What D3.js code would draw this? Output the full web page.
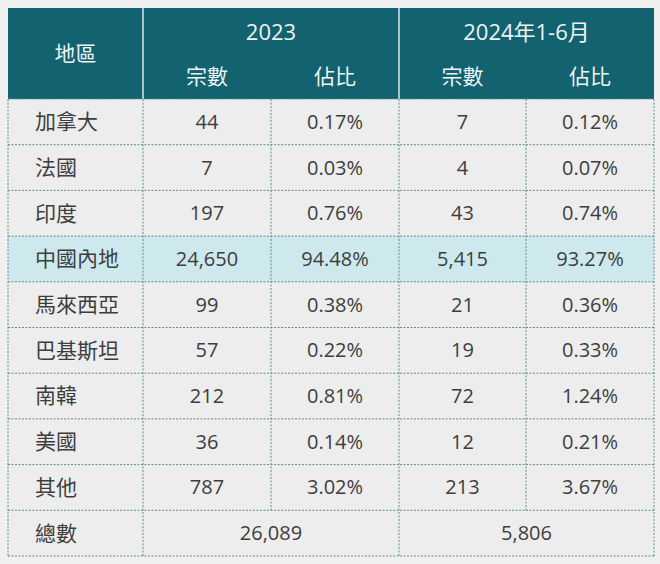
<!doctype html>
<html>
<head>
    <meta charset="utf-8">
    <script src="https://d3js.org/d3.v7.min.js"></script>
    <style>
        body { margin: 0; background: #f0f0f0; }
        text { font-family: "Open Sans", "Noto Sans CJK TC", sans-serif; }
    </style>
</head>
<body>
    <script>
        var width = 660;
        var height = 564;

        // data
        var regions = ["加拿大", "法國", "印度", "中國內地", "馬來西亞", "巴基斯坦", "南韓", "美國", "其他"];
        var cases2023 = ["44", "7", "197", "24,650", "99", "57", "212", "36", "787"];
        var share2023 = ["0.17%", "0.03%", "0.76%", "94.48%", "0.38%", "0.22%", "0.81%", "0.14%", "3.02%"];
        var cases2024 = ["7", "4", "43", "5,415", "21", "19", "72", "12", "213"];
        var share2024 = ["0.12%", "0.07%", "0.74%", "93.27%", "0.36%", "0.33%", "1.24%", "0.21%", "3.67%"];
        var periods = ["2023", "2024年1-6月"];
        var subHeaders = ["宗數", "佔比"];
        var totalLabel = "總數";
        var totals = ["26,089", "5,806"];
        var highlight = "中國內地";

        // layout ("top" is taken by window.top, so tTop)
        var tLeft = 8, tRight = 654, tTop = 8, headH = 91;
        var colEdges = [tLeft, 143, 271, 399, 526, tRight];
        var rowH = 45.7;

        var rowKeys = regions.concat([totalLabel]);
        var y = d3.scaleBand()
                  .domain(rowKeys)
                  .range([tTop + headH, tTop + headH + rowH * rowKeys.length]);

        var svg = d3.select("body")
                    .append("svg")
                    .attr("width", width)
                    .attr("height", height);

        svg.append("rect").attr("width", width).attr("height", height).attr("fill", "#f0f0f0");

        // header block
        svg.append("rect")
           .attr("x", tLeft).attr("y", tTop)
           .attr("width", tRight - tLeft).attr("height", headH)
           .attr("fill", "#136270");

        [colEdges[1], colEdges[3]].forEach(function(x){
            svg.append("line")
               .attr("x1", x).attr("x2", x)
               .attr("y1", tTop).attr("y2", tTop + headH)
               .attr("stroke", "#a8c6ca").attr("stroke-width", 2);
        });

        var headColor = "#eef4f4";
        svg.append("text")
           .attr("x", (colEdges[0] + colEdges[1]) / 2).attr("y", tTop + headH / 2)
           .attr("text-anchor", "middle").attr("dy", "0.35em")
           .attr("font-size", 21).attr("fill", headColor)
           .text("地區");

        periods.forEach(function(p, i){
            var x0 = colEdges[1 + i * 2], x1 = colEdges[3 + i * 2];
            svg.append("text")
               .attr("x", (x0 + x1) / 2).attr("y", tTop + 24)
               .attr("text-anchor", "middle").attr("dy", "0.35em")
               .attr("font-size", 22).attr("fill", headColor)
               .text(p);
            subHeaders.forEach(function(s, j){
                svg.append("text")
                   .attr("x", (colEdges[1 + i * 2 + j] + colEdges[2 + i * 2 + j]) / 2)
                   .attr("y", tTop + 69)
                   .attr("text-anchor", "middle").attr("dy", "0.35em")
                   .attr("font-size", 21).attr("fill", headColor)
                   .text(s);
            });
        });

        // body rows
        svg.selectAll("rect.row")
           .data(rowKeys)
           .enter()
           .append("rect")
           .attr("class", "row")
           .attr("x", tLeft).attr("y", function(d){ return y(d); })
           .attr("width", tRight - tLeft).attr("height", y.bandwidth())
           .attr("fill", function(d){ return d === highlight ? "#cde9ee" : "#ededed"; });

        function dline(x1, y1, x2, y2){
            svg.append("line")
               .attr("x1", x1).attr("y1", y1).attr("x2", x2).attr("y2", y2)
               .attr("stroke", "#5d8c8e").attr("stroke-width", 1)
               .attr("stroke-dasharray", "2,1.5");
        }

        // horizontal lines
        rowKeys.forEach(function(d){ dline(tLeft, y(d), tRight, y(d)); });
        var bottom = y(totalLabel) + y.bandwidth();
        dline(tLeft, bottom, tRight, bottom);

        // vertical lines
        dline(tLeft, tTop + headH, tLeft, bottom);
        dline(tRight, tTop + headH, tRight, bottom);
        dline(colEdges[1], tTop + headH, colEdges[1], bottom);
        dline(colEdges[3], tTop + headH, colEdges[3], bottom);
        dline(colEdges[2], tTop + headH, colEdges[2], y(totalLabel));
        dline(colEdges[4], tTop + headH, colEdges[4], y(totalLabel));

        var textColor = "#3d3d3d";
        var columns = [cases2023, share2023, cases2024, share2024];

        svg.selectAll("text.region")
           .data(rowKeys)
           .enter()
           .append("text")
           .attr("class", "region")
           .attr("x", 35)
           .attr("y", function(d){ return y(d) + y.bandwidth() / 2; })
           .attr("dy", "0.35em")
           .attr("font-size", 21).attr("fill", textColor)
           .text(function(d){ return d; });

        columns.forEach(function(col, c){
            svg.selectAll("text.c" + c)
               .data(col)
               .enter()
               .append("text")
               .attr("class", "c" + c)
               .attr("x", (colEdges[c + 1] + colEdges[c + 2]) / 2)
               .attr("y", function(d, i){ return y(regions[i]) + y.bandwidth() / 2; })
               .attr("text-anchor", "middle").attr("dy", "0.35em")
               .attr("font-size", 20).attr("fill", textColor)
               .text(function(d){ return d; });
        });

        totals.forEach(function(t, i){
            svg.append("text")
               .attr("x", (colEdges[1 + i * 2] + colEdges[3 + i * 2]) / 2)
               .attr("y", y(totalLabel) + y.bandwidth() / 2)
               .attr("text-anchor", "middle").attr("dy", "0.35em")
               .attr("font-size", 20).attr("fill", textColor)
               .text(t);
        });
    </script>
</body>
</html>
